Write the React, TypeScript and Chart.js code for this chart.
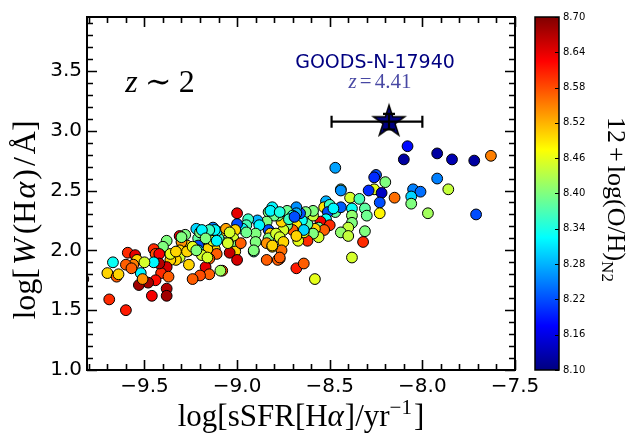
import { useEffect, useRef } from 'react';
import { Chart, registerables } from 'chart.js';

Chart.register(...registerables);

// log sSFR(Halpha) [yr^-1]
const sSFR = [
  -8.08, -8.10, -7.92, -7.84, -7.72, -7.63, -8.47, -8.26, -8.25, -8.26,
  -8.20, -7.92, -7.86, -8.05, -8.01, -8.06, -8.06, -8.15, -8.22, -8.23,
  -8.23, -8.29, -7.97, -7.71, -8.44, -8.44, -8.39, -8.34, -8.31, -8.30,
  -8.38, -8.38, -8.38, -8.40, -8.44, -8.40, -8.31, -8.32, -8.38, -8.58,
  -8.52, -8.53, -8.50, -8.47, -8.44, -8.51, -8.48, -8.52, -8.55, -8.50,
  -8.56, -8.53, -8.58, -8.56, -8.59, -8.62, -8.64, -8.62, -8.59, -8.59,
  -8.63, -8.65, -8.66, -8.68, -8.68, -8.73, -8.70, -8.70, -8.68, -8.64,
  -8.70, -8.67, -8.68, -8.73, -8.75, -8.76, -8.78, -8.81, -8.83, -8.80,
  -8.84, -8.83, -8.82, -8.83, -8.79, -8.77, -8.75, -8.76, -8.77, -8.84,
  -8.81, -8.84, -8.78, -8.68, -8.64, -8.89, -8.88, -8.90, -8.90, -8.91,
  -8.94, -8.95, -8.97, -8.95, -9.00, -9.00, -9.01, -9.02, -9.00, -9.01,
  -9.04, -9.00, -8.98, -9.06, -9.05, -9.09, -9.10, -9.11, -9.12, -9.11,
  -9.14, -9.15, -9.16, -9.18, -9.21, -9.21, -9.21, -9.19, -9.15, -9.17,
  -9.15, -9.20, -9.24, -9.08, -9.09, -9.26, -9.27, -9.28, -9.31, -9.30,
  -9.31, -9.31, -9.33, -9.36, -9.38, -9.41, -9.37, -9.38, -9.38, -9.38,
  -9.40, -9.45, -9.44, -9.42, -9.42, -9.45, -9.44, -9.48, -9.53, -9.52,
  -9.51, -9.46, -9.59, -9.55, -9.54, -9.56, -9.60, -9.50, -9.57, -9.67,
  -9.70, -9.65, -9.64, -9.69, -9.60, -9.83, -9.22, -9.20, -9.13, -9.12,
  -9.06, -9.04, -9.15, -9.19, -9.13, -9.17, -9.11, -9.16, -9.05, -8.91,
  -8.81, -8.77, -8.82, -8.77, -8.72, -8.69, -9.26, -9.27, -9.30, -9.24,
  -9.22, -9.36, -9.33,
];

// log W(Halpha) [A]
const logW = [
  2.87, 2.76, 2.81, 2.76, 2.75, 2.79, 2.69, 2.51, 2.63, 2.61,
  2.57, 2.60, 2.51, 2.51, 2.49, 2.45, 2.39, 2.44, 2.48, 2.40,
  2.31, 2.50, 2.31, 2.30, 2.51, 2.50, 2.44, 2.43, 2.35, 2.29,
  2.35, 2.29, 2.23, 2.19, 2.15, 2.12, 2.16, 2.07, 1.94, 1.76,
  2.41, 2.36, 2.38, 2.32, 2.36, 2.32, 2.35, 2.26, 2.24, 2.21,
  2.19, 2.17, 2.18, 2.11, 2.14, 2.08, 2.15, 2.22, 2.29, 2.33,
  2.32, 2.25, 2.31, 2.36, 2.31, 2.33, 2.29, 2.24, 2.21, 2.17,
  2.17, 2.08, 2.12, 2.21, 2.17, 2.24, 2.29, 2.36, 2.32, 2.29,
  2.24, 2.17, 2.14, 2.10, 2.14, 2.11, 2.07, 2.00, 1.93, 2.06,
  2.03, 1.92, 1.92, 1.85, 1.89, 2.25, 2.21, 2.14, 2.07, 1.99,
  2.26, 2.21, 2.18, 2.15, 2.22, 2.31, 2.17, 2.10, 2.04, 1.99,
  1.98, 1.92, 2.06, 2.17, 2.07, 2.15, 2.10, 2.16, 2.01, 1.97,
  2.15, 2.07, 2.01, 2.10, 2.10, 2.04, 2.00, 1.96, 1.93, 1.86,
  1.80, 1.79, 1.76, 1.83, 1.83, 2.00, 2.04, 2.13, 2.12, 2.07,
  2.00, 1.94, 1.92, 1.92, 1.86, 1.81, 1.78, 1.68, 1.62, 2.08,
  2.03, 2.01, 1.97, 1.97, 1.89, 1.90, 1.75, 1.73, 1.71, 1.81,
  1.76, 1.62, 1.98, 1.96, 1.92, 1.88, 1.88, 1.90, 1.85, 1.90,
  1.81, 1.78, 1.80, 1.59, 1.50, 1.76, 2.18, 2.15, 2.19, 2.17,
  2.18, 2.15, 2.17, 2.17, 2.08, 2.10, 2.08, 1.94, 2.06, 2.00,
  2.04, 1.94, 2.33, 2.32, 2.26, 2.28, 1.88, 1.99, 2.11, 2.03,
  2.00, 1.97, 1.99,
];

// 12 + log(O/H)_N2
const ohN2 = [
  8.18, 8.12, 8.12, 8.13, 8.12, 8.55, 8.27, 8.46, 8.22, 8.20,
  8.40, 8.25, 8.44, 8.25, 8.24, 8.30, 8.40, 8.56, 8.14, 8.22,
  8.48, 8.20, 8.42, 8.22, 8.40, 8.26, 8.45, 8.37, 8.38, 8.39,
  8.33, 8.41, 8.40, 8.44, 8.41, 8.44, 8.40, 8.60, 8.45, 8.46,
  8.28, 8.49, 8.36, 8.38, 8.23, 8.22, 8.32, 8.33, 8.63, 8.60,
  8.39, 8.57, 8.50, 8.45, 8.40, 8.60, 8.46, 8.38, 8.44, 8.40,
  8.40, 8.33, 8.22, 8.26, 8.28, 8.39, 8.34, 8.57, 8.49, 8.30,
  8.57, 8.46, 8.50, 8.40, 8.45, 8.50, 8.40, 8.32, 8.40, 8.39,
  8.40, 8.22, 8.50, 8.40, 8.45, 8.45, 8.50, 8.56, 8.57, 8.54,
  8.50, 8.57, 8.57, 8.61, 8.57, 8.28, 8.32, 8.40, 8.40, 8.36,
  8.36, 8.37, 8.33, 8.39, 8.22, 8.64, 8.50, 8.45, 8.40, 8.50,
  8.66, 8.65, 8.57, 8.53, 8.40, 8.50, 8.36, 8.32, 8.50, 8.57,
  8.40, 8.44, 8.50, 8.40, 8.38, 8.22, 8.31, 8.45, 8.57, 8.64,
  8.57, 8.58, 8.57, 8.58, 8.42, 8.46, 8.50, 8.40, 8.64, 8.54,
  8.50, 8.45, 8.50, 8.50, 8.65, 8.60, 8.57, 8.67, 8.68, 8.40,
  8.40, 8.60, 8.58, 8.63, 8.67, 8.32, 8.62, 8.68, 8.68, 8.32,
  8.54, 8.63, 8.60, 8.64, 8.50, 8.55, 8.57, 8.45, 8.57, 8.33,
  8.50, 8.57, 8.50, 8.60, 8.61, 8.60, 8.30, 8.40, 8.25, 8.32,
  8.53, 8.45, 8.36, 8.32, 8.45, 8.40, 8.32, 8.45, 8.45, 8.40,
  8.50, 8.57, 8.32, 8.34, 8.36, 8.22, 8.50, 8.50, 8.40, 8.46,
  8.40, 8.46, 8.50,
];

// GOODS-N-17940 (z = 4.41)
const starX = [-8.18];
const starY = [3.075];
const starXLow = [-8.49];
const starXHigh = [-8.0];
const starYLow = [3.01];
const starYHigh = [3.14];

const xTicks = [-9.5, -9.0, -8.5, -8.0, -7.5];
const yTicks = [1.0, 1.5, 2.0, 2.5, 3.0, 3.5];
const cbTicks = [8.1, 8.16, 8.22, 8.28, 8.34, 8.4, 8.46, 8.52, 8.58, 8.64, 8.7];
const cbMin = 8.1;
const cbMax = 8.7;

const clamp = (v: number) => Math.max(0, Math.min(1, v));
function jet(t: number): string {
  const r = clamp(Math.min(4 * t - 1.5, -4 * t + 4.5));
  const g = clamp(Math.min(4 * t - 0.5, -4 * t + 3.5));
  const b = clamp(Math.min(4 * t + 0.5, -4 * t + 2.5));
  return `rgb(${Math.round(r * 255)},${Math.round(g * 255)},${Math.round(b * 255)})`;
}
const zColor = (v: number) => jet((v - cbMin) / (cbMax - cbMin));

type Seg = { t: string; size: number; italic?: boolean; dy?: number; gap?: number; family?: string };
const SERIF = '"Liberation Serif", "DejaVu Serif", serif';

function drawRich(ctx: CanvasRenderingContext2D, segs: Seg[], cx: number, cy: number, rot: number, color = '#000') {
  ctx.save();
  ctx.translate(cx, cy);
  ctx.rotate(rot);
  ctx.fillStyle = color;
  ctx.textBaseline = 'alphabetic';
  ctx.textAlign = 'left';
  const fontOf = (s: Seg) => `${s.italic ? 'italic ' : ''}${s.size}px ${s.family || SERIF}`;
  let total = 0;
  const ws = segs.map((s) => {
    ctx.font = fontOf(s);
    const w = ctx.measureText(s.t).width + (s.gap || 0);
    total += w;
    return w;
  });
  let x = -total / 2;
  segs.forEach((s, i) => {
    ctx.font = fontOf(s);
    ctx.fillText(s.t, x, s.dy || 0);
    x += ws[i];
  });
  ctx.restore();
}

const decor = {
  id: 'decor',
  afterDatasetsDraw(chart: any) {
    const { ctx, chartArea: a, scales } = chart;
    const xs = scales.x;
    const ys = scales.y;
    ctx.save();
    // error bars of the star
    ctx.strokeStyle = '#000';
    ctx.lineWidth = 2.2;
    for (let i = 0; i < starX.length; i++) {
      const px = xs.getPixelForValue(starX[i]);
      const py = ys.getPixelForValue(starY[i]);
      const x0 = xs.getPixelForValue(starXLow[i]);
      const x1 = xs.getPixelForValue(starXHigh[i]);
      const y0 = ys.getPixelForValue(starYLow[i]);
      const y1 = ys.getPixelForValue(starYHigh[i]);
      const cap = 6;
      ctx.beginPath();
      ctx.moveTo(x0, py); ctx.lineTo(x1, py);
      ctx.moveTo(x0, py - cap); ctx.lineTo(x0, py + cap);
      ctx.moveTo(x1, py - cap); ctx.lineTo(x1, py + cap);
      ctx.moveTo(px, y0); ctx.lineTo(px, y1);
      ctx.moveTo(px - cap, y0); ctx.lineTo(px + cap, y0);
      ctx.moveTo(px - cap, y1); ctx.lineTo(px + cap, y1);
      ctx.stroke();
    }
    // ticks on all four sides, pointing inward
    ctx.lineWidth = 1.6;
    ctx.beginPath();
    for (let k = -98; k <= -75; k++) {
      const v = k / 10;
      const major = k % 5 === 0;
      const L = major ? 10 : 6;
      const px = Math.round(xs.getPixelForValue(v)) + 0.5;
      ctx.moveTo(px, a.bottom); ctx.lineTo(px, a.bottom - L);
      ctx.moveTo(px, a.top); ctx.lineTo(px, a.top + L);
    }
    for (let k = 10; k <= 39; k++) {
      const v = k / 10;
      const major = k % 5 === 0;
      const L = major ? 10 : 6;
      const py = Math.round(ys.getPixelForValue(v)) + 0.5;
      ctx.moveTo(a.left, py); ctx.lineTo(a.left + L, py);
      ctx.moveTo(a.right, py); ctx.lineTo(a.right - L, py);
    }
    ctx.stroke();
    // frame
    ctx.lineWidth = 2;
    ctx.strokeRect(a.left, a.top, a.right - a.left, a.bottom - a.top);
    ctx.restore();
  },
  afterDraw(chart: any) {
    const { ctx, chartArea: a } = chart;
    ctx.save();
    // colour bar
    const bx0 = a.right + 20;
    const bx1 = a.right + 44;
    const top = a.top;
    const bot = a.bottom;
    const grad = ctx.createLinearGradient(0, bot, 0, top);
    for (let i = 0; i <= 40; i++) grad.addColorStop(i / 40, jet(i / 40));
    ctx.fillStyle = grad;
    ctx.fillRect(bx0, top, bx1 - bx0, bot - top);
    ctx.strokeStyle = '#000';
    ctx.lineWidth = 1.5;
    ctx.strokeRect(bx0, top, bx1 - bx0, bot - top);
    ctx.fillStyle = '#000';
    ctx.font = '10px "DejaVu Sans"';
    ctx.textAlign = 'left';
    ctx.textBaseline = 'middle';
    ctx.lineWidth = 1;
    cbTicks.forEach((v) => {
      const py = bot - ((v - cbMin) / (cbMax - cbMin)) * (bot - top);
      ctx.beginPath();
      ctx.moveTo(bx1 - 4, Math.round(py) + 0.5);
      ctx.lineTo(bx1, Math.round(py) + 0.5);
      ctx.stroke();
      ctx.fillText(v.toFixed(2), bx1 + 4, py);
    });
    ctx.restore();

    // colour bar title
    drawRich(ctx, [
      { t: '12', size: 26, gap: 4 },
      { t: '+', size: 26, gap: 4 },
      { t: 'log(O/H)', size: 26 },
      { t: 'N2', size: 17, dy: 6 },
    ], a.right + 93, (a.top + a.bottom) / 2 + 6, Math.PI / 2);

    // y axis title
    drawRich(ctx, [
      { t: 'log[', size: 32, gap: 3 },
      { t: 'W', size: 32, italic: true, gap: 4 },
      { t: '(H', size: 32, gap: 2 },
      { t: 'α', size: 32, italic: true, gap: 2 },
      { t: ')', size: 32, gap: 3 },
      { t: '/', size: 32, gap: 3 },
      { t: 'Å]', size: 32 },
    ], 35, 220, -Math.PI / 2);

    // x axis title
    drawRich(ctx, [
      { t: 'log[sSFR[H', size: 31 },
      { t: 'α', size: 31, italic: true, gap: 1 },
      { t: ']/yr', size: 31 },
      { t: '−1', size: 21, dy: -12, gap: 2 },
      { t: ']', size: 31 },
    ], (a.left + a.right) / 2, 426, 0);

    // z ~ 2
    drawRich(ctx, [
      { t: 'z', size: 32, italic: true, gap: 7 },
      { t: '∼', size: 32, gap: 7 },
      { t: '2', size: 32 },
    ], 160, 92, 0);

    // object label
    drawRich(ctx, [
      { t: 'GOODS-N-17940', size: 19, family: '"DejaVu Sans", sans-serif' },
    ], 375, 68, 0, '#000080');
    drawRich(ctx, [
      { t: 'z', size: 21, italic: true, gap: 3 },
      { t: '=', size: 21, gap: 3 },
      { t: '4.41', size: 21 },
    ], 380, 88, 0, 'rgba(0,0,128,0.72)');
  },
};

export default function App() {
  const ref = useRef<HTMLCanvasElement>(null);
  useEffect(() => {
    const canvas = ref.current;
    if (!canvas) return;
    const star = document.createElement('canvas');
    star.width = 40;
    star.height = 40;
    const sc = star.getContext('2d')!;
    sc.beginPath();
    for (let k = 0; k < 10; k++) {
      const r = k % 2 === 0 ? 16.5 : 16.5 * 0.382;
      const ang = -Math.PI / 2 + (k * Math.PI) / 5;
      const px = 20 + r * Math.cos(ang);
      const py = 20 + r * Math.sin(ang);
      if (k === 0) sc.moveTo(px, py);
      else sc.lineTo(px, py);
    }
    sc.closePath();
    sc.fillStyle = '#000080';
    sc.fill();
    sc.lineWidth = 1.5;
    sc.strokeStyle = '#000';
    sc.stroke();

    const points = sSFR.map((x, i) => ({ x, y: logW[i] }));
    const colors = ohN2.map(zColor);

    const chart = new Chart(canvas, {
      type: 'scatter',
      data: {
        datasets: [
          {
            data: points,
            pointBackgroundColor: colors,
            pointBorderColor: '#000',
            pointBorderWidth: 1,
            pointRadius: 5.4,
            clip: 0,
          } as any,
          {
            data: starX.map((x, i) => ({ x, y: starY[i] })),
            pointStyle: star as any,
            pointRadius: 16,
            clip: false,
          } as any,
        ],
      },
      options: {
        responsive: false,
        devicePixelRatio: 1,
        animation: false,
        events: [],
        layout: { padding: { top: 13, right: 113, left: 0, bottom: 0 } },
        plugins: { legend: { display: false }, tooltip: { enabled: false }, title: { display: false } },
        scales: {
          x: {
            type: 'linear',
            min: -9.81,
            max: -7.5,
            afterBuildTicks: (s: any) => { s.ticks = xTicks.map((v) => ({ value: v })); },
            afterFit: (s: any) => { s.height = 68; },
            grid: { display: false, drawTicks: false },
            border: { display: false },
            ticks: {
              autoSkip: false,
              maxRotation: 0,
              padding: 5,
              color: '#000',
              font: { family: '"DejaVu Sans"', size: 20 },
              callback: (v: any) => Number(v).toFixed(1).replace('-', '\u2212'),
            },
          },
          y: {
            type: 'linear',
            min: 1.0,
            max: 3.95,
            afterBuildTicks: (s: any) => { s.ticks = yTicks.map((v) => ({ value: v })); },
            afterFit: (s: any) => { s.width = 87; },
            grid: { display: false, drawTicks: false },
            border: { display: false },
            ticks: {
              autoSkip: false,
              padding: 5,
              color: '#000',
              font: { family: '"DejaVu Sans"', size: 20 },
              callback: (v: any) => Number(v).toFixed(1),
            },
          },
        },
      },
      plugins: [decor],
    });
    return () => chart.destroy();
  }, []);
  return (
    <div style={{ position: 'absolute', left: 0, top: 0, width: 628, height: 438, background: '#fff' }}>
      <canvas ref={ref} width={628} height={438} style={{ display: 'block' }} />
    </div>
  );
}
